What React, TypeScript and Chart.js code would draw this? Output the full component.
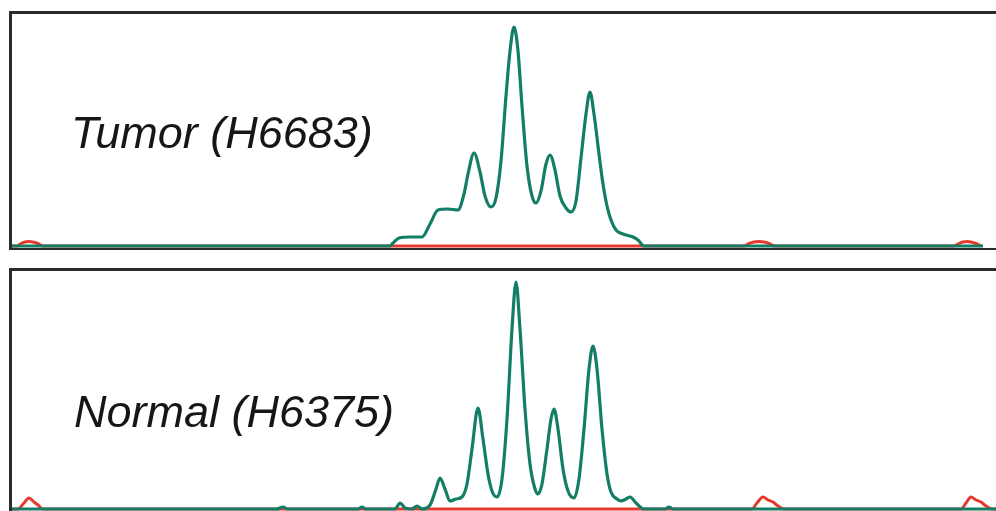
import React, { useEffect, useRef } from "react";
import { Chart, registerables } from "chart.js";

Chart.register(...registerables);

// ---- Data (migration position vs. signal intensity) ----
const tumorLabel = "Tumor (H6683)";
const normalLabel = "Normal (H6375)";

const tumorGreenX = [12, 390, 393, 399, 410, 422, 430, 438, 448, 458, 464, 468, 474, 480, 485, 491, 496, 501, 506, 510, 514, 518, 522, 527, 532, 536, 541, 546, 550, 555, 560, 566, 571, 576, 581, 586, 590, 594, 599, 603, 607, 611, 616, 623, 633, 638, 644, 983];
const tumorGreenY = [0, 0, 3, 8, 9, 9, 22, 36, 37, 36, 52, 72, 93, 74, 50, 39, 48, 85, 150, 195, 219, 195, 140, 80, 50, 43, 55, 82, 91, 76, 50, 38, 34, 45, 88, 132, 154, 132, 92, 62, 40, 26, 16, 12, 9, 6, 0, 0];

const tumorRedX = [12, 17, 21, 25, 29, 33, 38, 43, 744, 749, 754, 759, 764, 769, 775, 954, 959, 963, 967, 971, 976, 981];
const tumorRedY = [0, 0, 2.5, 4, 4.5, 4, 2.5, 0, 0, 2.5, 4, 4.5, 4, 2.5, 0, 0, 2.5, 4, 4.5, 4, 2.5, 0];

const normalGreenX = [12, 277, 283, 288, 358, 362, 366, 395, 400, 405, 412, 417, 422, 430, 436, 440, 445, 450, 456, 462, 467, 472, 478, 483, 488, 492, 497, 502, 507, 512, 516, 520, 525, 530, 535, 538, 542, 547, 551, 554, 558, 563, 568, 574, 579, 584, 589, 593, 597, 602, 607, 611, 617, 621, 626, 630, 636, 644, 665, 669, 673, 996];
const normalGreenY = [0, 0, 2, 0, 0, 2, 0, 0, 6, 1, 0, 3, 0, 4, 20, 31, 20, 8, 10, 12, 25, 60, 101, 70, 35, 18, 12, 30, 90, 180, 227, 180, 100, 45, 20, 15, 25, 60, 90, 100, 80, 40, 18, 11, 30, 80, 140, 163, 140, 80, 35, 17, 10, 8, 10, 12, 6, 0, 0, 2, 0, 0];

const normalRedX = [12, 18, 24, 29, 34, 38, 43, 752, 757, 763, 768, 773, 778, 784, 961, 966, 971, 976, 981, 986, 992, 996];
const normalRedY = [0, 0, 6, 11, 7, 4, 0, 0, 6, 12, 9, 7, 3, 0, 0, 6, 12, 9, 7, 3, 0, 0];

const GREEN = "#147d66";
const RED = "#e5392e";
const FRAME = "#2b2b2b";

function zip(xs: number[], ys: number[]) {
  return xs.map((x, i) => ({ x, y: ys[i] }));
}

const framePlugin = {
  id: "panelFrame",
  afterDraw(chart: any, _args: any, opts: any) {
    const { ctx, chartArea: ca, width, height } = chart;
    ctx.save();
    ctx.fillStyle = FRAME;
    const t = 3;
    // top border
    ctx.fillRect(ca.left - t, ca.top - t, width - ca.left + t, t);
    // left border
    const leftBottom = opts.bottomBorder ? ca.bottom + 2 : height;
    ctx.fillRect(ca.left - t, ca.top - t, t, leftBottom - (ca.top - t));
    // bottom border
    if (opts.bottomBorder) {
      ctx.fillRect(ca.left - t, ca.bottom, width - ca.left + t, 2);
    }
    // label
    ctx.fillStyle = "#161616";
    ctx.font = `italic ${opts.fontSize}px "Liberation Sans", Arial, sans-serif`;
    ctx.textBaseline = "alphabetic";
    ctx.textAlign = "left";
    ctx.fillText(opts.label, opts.textX, opts.textY);
    ctx.restore();
  },
};

type PanelProps = {
  label: string;
  greenX: number[];
  greenY: number[];
  redX: number[];
  redY: number[];
  top: number;
  height: number;
  padTop: number;
  padBottom: number;
  yMin: number;
  yMax: number;
  textX: number;
  textY: number;
  fontSize: number;
  bottomBorder: boolean;
};

function Panel(p: PanelProps) {
  const ref = useRef<HTMLCanvasElement | null>(null);
  useEffect(() => {
    if (!ref.current) return;
    const chart = new Chart(ref.current, {
      type: "line",
      data: {
        datasets: [
          {
            label: "green",
            data: zip(p.greenX, p.greenY),
            borderColor: GREEN,
            borderWidth: 3.2,
            pointRadius: 0,
            cubicInterpolationMode: "monotone",
            fill: false,
            order: 0,
          },
          {
            label: "red",
            data: zip(p.redX, p.redY),
            borderColor: RED,
            borderWidth: 3,
            pointRadius: 0,
            cubicInterpolationMode: "monotone",
            fill: false,
            order: 1,
          },
        ],
      },
      options: {
        responsive: false,
        animation: false,
        events: [],
        layout: { padding: { left: 12, right: 0, top: p.padTop, bottom: p.padBottom } },
        scales: {
          x: { type: "linear", min: 12, max: 996, display: false },
          y: { type: "linear", min: p.yMin, max: p.yMax, display: false },
        },
        plugins: {
          legend: { display: false },
          tooltip: { enabled: false },
          panelFrame: {
            label: p.label,
            textX: p.textX,
            textY: p.textY,
            fontSize: p.fontSize,
            bottomBorder: p.bottomBorder,
          },
        } as any,
      },
      plugins: [framePlugin],
    } as any);
    return () => chart.destroy();
  }, []);
  return (
    <canvas
      ref={ref}
      width={996}
      height={p.height}
      style={{ position: "absolute", left: 0, top: p.top, width: 996, height: p.height, display: "block" }}
    />
  );
}

export default function App() {
  return (
    <div style={{ position: "fixed", left: 0, top: 0, width: 996, height: 511, background: "#ffffff", overflow: "hidden" }}>
      <Panel
        label={tumorLabel}
        greenX={tumorGreenX}
        greenY={tumorGreenY}
        redX={tumorRedX}
        redY={tumorRedY}
        top={0}
        height={252}
        padTop={14}
        padBottom={4}
        yMin={-2}
        yMax={232}
        textX={71}
        textY={148}
        fontSize={45}
        bottomBorder={true}
      />
      <Panel
        label={normalLabel}
        greenX={normalGreenX}
        greenY={normalGreenY}
        redX={normalRedX}
        redY={normalRedY}
        top={256}
        height={255}
        padTop={15}
        padBottom={0}
        yMin={-2}
        yMax={238}
        textX={74}
        textY={171}
        fontSize={45}
        bottomBorder={false}
      />
    </div>
  );
}
